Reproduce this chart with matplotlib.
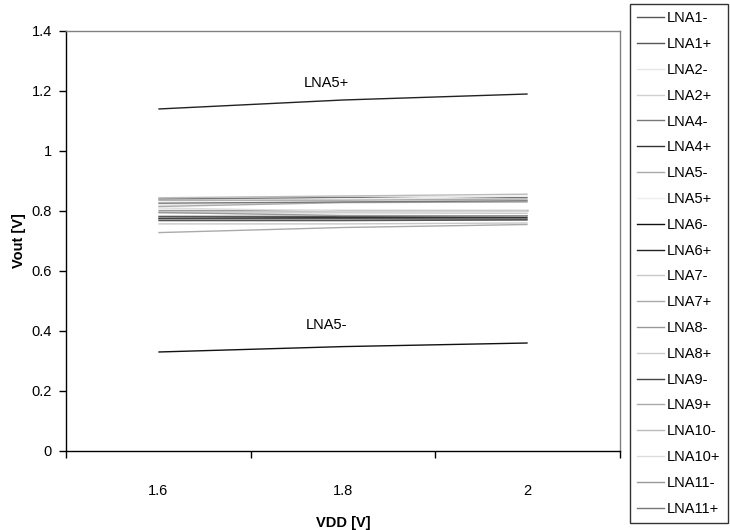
import matplotlib
matplotlib.use("Agg")
import matplotlib.pyplot as plt
from matplotlib.lines import Line2D

plt.rcParams['font.family'] = ['Liberation Sans', 'DejaVu Sans']

vdd = ["1.6", "1.8", "2"]

series_names = ["LNA1-", "LNA1+", "LNA2-", "LNA2+", "LNA4-", "LNA4+", "LNA5-", "LNA5+",
                "LNA6-", "LNA6+", "LNA7-", "LNA7+", "LNA8-", "LNA8+", "LNA9-", "LNA9+",
                "LNA10-", "LNA10+", "LNA11-", "LNA11+"]

lna1_m = [0.768, 0.768, 0.770]
lna1_p = [0.782, 0.782, 0.784]
lna2_m = [0.820, 0.830, 0.835]
lna2_p = [0.800, 0.800, 0.800]
lna4_m = [0.840, 0.845, 0.845]
lna4_p = [0.776, 0.778, 0.778]
lna5_m = [0.728, 0.745, 0.755]
lna5_p = [0.830, 0.840, 0.850]
lna6_m = [0.330, 0.348, 0.360]
lna6_p = [1.140, 1.170, 1.190]
lna7_m = [0.757, 0.757, 0.760]
lna7_p = [0.815, 0.828, 0.830]
lna8_m = [0.803, 0.803, 0.803]
lna8_p = [0.794, 0.794, 0.792]
lna9_m = [0.774, 0.774, 0.773]
lna9_p = [0.836, 0.836, 0.840]
lna10_m = [0.844, 0.850, 0.856]
lna10_p = [0.810, 0.800, 0.800]
lna11_m = [0.795, 0.785, 0.784]
lna11_p = [0.826, 0.830, 0.834]

series_values = [lna1_m, lna1_p, lna2_m, lna2_p, lna4_m, lna4_p, lna5_m, lna5_p,
                 lna6_m, lna6_p, lna7_m, lna7_p, lna8_m, lna8_p, lna9_m, lna9_p,
                 lna10_m, lna10_p, lna11_m, lna11_p]

series_colors = ["#555555", "#555555", "#e6e6e6", "#d0d0d0", "#777777", "#333333",
                 "#aaaaaa", "#eeeeee", "#111111", "#222222", "#c8c8c8", "#aaaaaa",
                 "#999999", "#cccccc", "#444444", "#aaaaaa", "#bbbbbb", "#dddddd",
                 "#999999", "#777777"]

annotations = [("LNA5+", 0.91, 1.227), ("LNA5-", 0.91, 0.42)]

FS = 10.5

fig = plt.figure(figsize=(7.3, 5.3), dpi=100)
ax = fig.add_axes([66 / 730, 1 - 451 / 530, (620 - 66) / 730, (451 - 31) / 530])

xs = list(range(len(vdd)))
for name, vals, col in zip(series_names, series_values, series_colors):
    ax.plot(xs, vals, color=col, lw=1.0, solid_capstyle='butt')

for text, xp, yp in annotations:
    ax.text(xp, yp, text, ha='center', va='center', fontsize=FS, color='black')

ax.set_xlim(-0.5, len(vdd) - 0.5)
ax.set_ylim(0, 1.4)
ax.set_yticks([0, 0.2, 0.4, 0.6, 0.8, 1.0, 1.2, 1.4])
ax.set_yticklabels(["0", "0.2", "0.4", "0.6", "0.8", "1", "1.2", "1.4"])

ax.set_xticks([i - 0.5 for i in range(len(vdd) + 1)])
ax.set_xticklabels([])
ax.set_xticks(xs, minor=True)
ax.set_xticklabels(vdd, minor=True)
ax.tick_params(axis='x', which='minor', length=0, pad=24, labelsize=FS)
ax.tick_params(axis='x', which='major', direction='out', length=5, width=1, color='black')
ax.tick_params(axis='y', direction='out', length=5, width=1, color='black', labelsize=FS, pad=5)

for side in ('top', 'right'):
    ax.spines[side].set_color('#808080')
    ax.spines[side].set_linewidth(1.0)
for side in ('left', 'bottom'):
    ax.spines[side].set_color('black')
    ax.spines[side].set_linewidth(1.0)

ax.set_xlabel("VDD [V]", fontsize=FS, fontweight='bold', labelpad=13)
ax.set_ylabel("Vout [V]", fontsize=FS, fontweight='bold', labelpad=4)

handles = [Line2D([0], [0], color=c, lw=1.0) for c in series_colors]
leg = fig.legend(handles, series_names, loc='upper left',
                 bbox_to_anchor=(630 / 730, 1 - 4 / 530), bbox_transform=fig.transFigure,
                 frameon=True, fancybox=False, fontsize=FS, handlelength=1.8,
                 handletextpad=0.25, labelspacing=0.81, borderpad=0.5,
                 borderaxespad=0)
leg.get_frame().set_edgecolor('black')
leg.get_frame().set_linewidth(1.0)

fig.savefig("out.png", dpi=100)
